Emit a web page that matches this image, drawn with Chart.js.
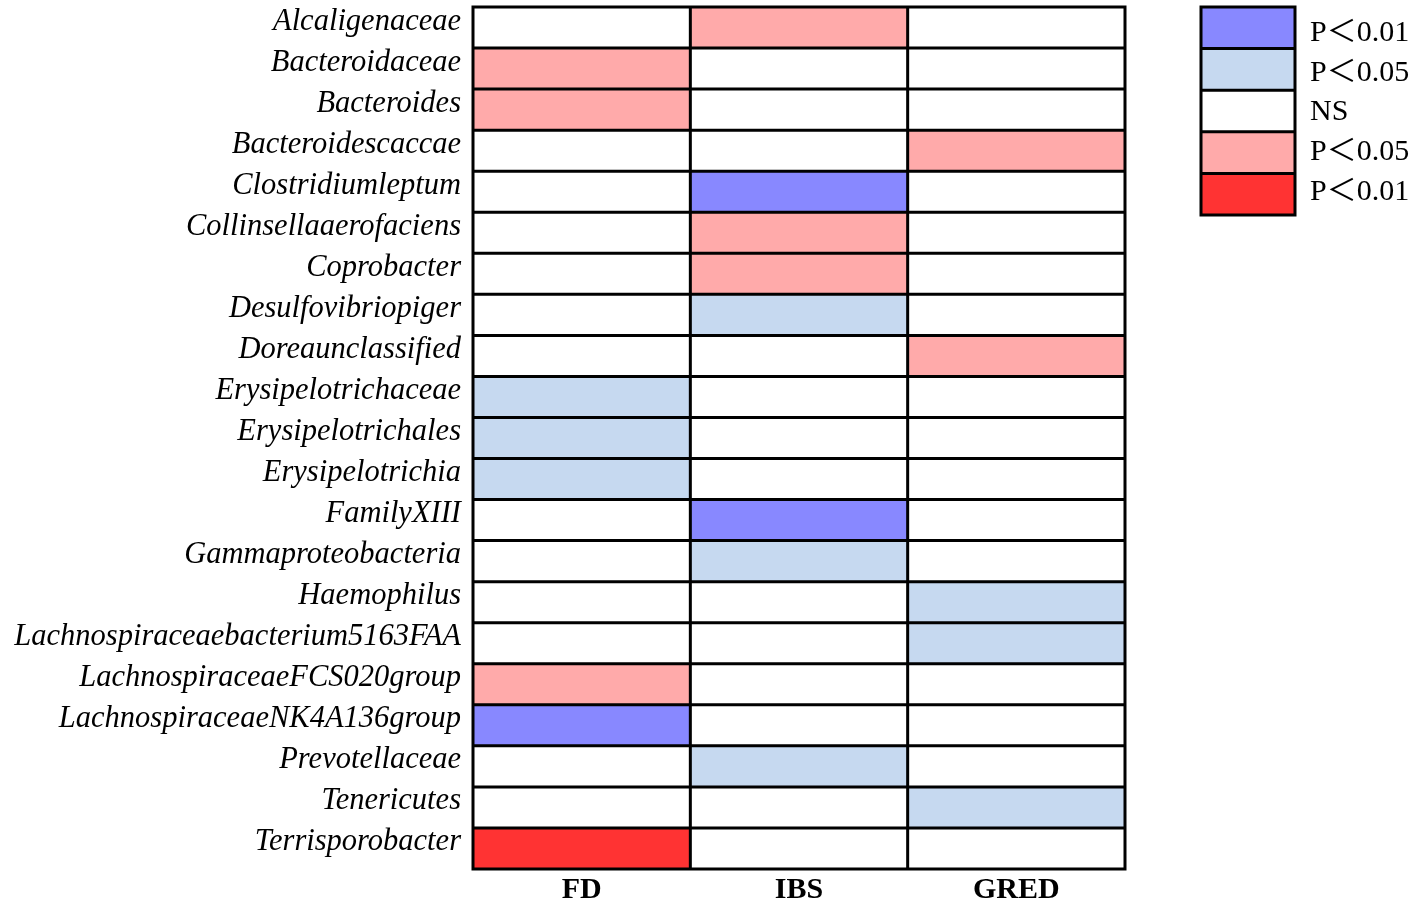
<!DOCTYPE html>
<html>
<head>
<meta charset="utf-8">
<script src="https://cdn.jsdelivr.net/npm/chart.js@4.4.1/dist/chart.umd.min.js"></script>
<style>
html,body{margin:0;padding:0;background:#fff;}
#wrap{width:1418px;height:909px;}
</style>
</head>
<body>
<div id="wrap"><canvas id="c" width="1418" height="909"></canvas></div>
<script>
const taxa = ["Alcaligenaceae","Bacteroidaceae","Bacteroides","Bacteroidescaccae","Clostridiumleptum","Collinsellaaerofaciens","Coprobacter","Desulfovibriopiger","Doreaunclassified","Erysipelotrichaceae","Erysipelotrichales","Erysipelotrichia","FamilyXIII","Gammaproteobacteria","Haemophilus","Lachnospiraceaebacterium5163FAA","LachnospiraceaeFCS020group","LachnospiraceaeNK4A136group","Prevotellaceae","Tenericutes","Terrisporobacter"];
const groups = ["FD","IBS","GRED"];
// significance codes: -2 = blue P<0.01, -1 = blue P<0.05, 0 = NS, 1 = red P<0.05, 2 = red P<0.01
const FD   = [0,1,1,0,0,0,0,0,0,-1,-1,-1,0,0,0,0,1,-2,0,0,2];
const IBS  = [1,0,0,0,-2,1,1,-1,0,0,0,0,-2,-1,0,0,0,0,-1,0,0];
const GRED = [0,0,0,1,0,0,0,0,1,0,0,0,0,0,-1,-1,0,0,0,-1,0];
const legendLabels = ["P\uFF1C0.01","P\uFF1C0.05","NS","P\uFF1C0.05","P\uFF1C0.01"];
const legendCodes = [-2,-1,0,1,2];

const palette = {"-2":"#8888ff","-1":"#c6d9f0","0":"#ffffff","1":"#ffaaaa","2":"#ff3333"};
const colorFor = v => palette[String(v)];
const groupValues = [FD, IBS, GRED];

const datasets = groups.map((g, j) => ({
  label: g,
  data: taxa.map(() => [j, j + 1]),
  backgroundColor: groupValues[j].map(colorFor),
  borderWidth: 0,
  grouped: false,
  barPercentage: 1,
  categoryPercentage: 1
}));

const gridPlugin = {
  id: 'gridLines',
  afterDatasetsDraw(chart) {
    const {ctx, scales: {x, y}} = chart;
    const step = y.getPixelForValue(1) - y.getPixelForValue(0);
    const top = y.getPixelForValue(0) - step / 2;
    const bottom = top + step * taxa.length;
    const left = x.getPixelForValue(0), right = x.getPixelForValue(groups.length);
    ctx.save();
    ctx.strokeStyle = '#000';
    ctx.lineWidth = 3;
    ctx.beginPath();
    for (let i = 0; i <= taxa.length; i++) {
      const yy = top + step * i;
      ctx.moveTo(left - 1.5, yy); ctx.lineTo(right + 1.5, yy);
    }
    for (let j = 0; j <= groups.length; j++) {
      const xx = x.getPixelForValue(j);
      ctx.moveTo(xx, top); ctx.lineTo(xx, bottom);
    }
    ctx.stroke();
    ctx.restore();
  }
};

const legendPlugin = {
  id: 'sigLegend',
  afterDraw(chart) {
    const ctx = chart.ctx;
    const bx = 1201, bw = 94, by = 7, bh = 41.6;
    ctx.save();
    legendCodes.forEach((code, i) => {
      ctx.fillStyle = colorFor(code);
      ctx.fillRect(bx, by + bh * i, bw, bh);
    });
    ctx.strokeStyle = '#000';
    ctx.lineWidth = 3;
    ctx.beginPath();
    for (let i = 0; i <= legendCodes.length; i++) {
      ctx.moveTo(bx - 1.5, by + bh * i); ctx.lineTo(bx + bw + 1.5, by + bh * i);
    }
    ctx.moveTo(bx, by); ctx.lineTo(bx, by + bh * legendCodes.length);
    ctx.moveTo(bx + bw, by); ctx.lineTo(bx + bw, by + bh * legendCodes.length);
    ctx.stroke();
    ctx.fillStyle = '#000';
    ctx.font = "30px 'Liberation Serif', 'Noto Sans CJK SC', serif";
    ctx.textBaseline = 'middle';
    ctx.textAlign = 'left';
    legendLabels.forEach((t, i) => {
      ctx.fillText(t, 1310, by + 26 + 39.8 * i);
    });
    ctx.restore();
  }
};

new Chart(document.getElementById('c'), {
  type: 'bar',
  data: { labels: taxa, datasets },
  options: {
    responsive: false,
    animation: false,
    devicePixelRatio: 1,
    indexAxis: 'y',
    layout: { padding: { top: 7, right: 293, bottom: 0, left: 0 } },
    plugins: { legend: { display: false }, tooltip: { enabled: false } },
    scales: {
      x: {
        type: 'linear', min: 0, max: groups.length,
        grid: { display: false, drawTicks: false },
        border: { display: false },
        afterBuildTicks(axis) { axis.ticks = groups.map((g, j) => ({ value: j + 0.5 })); },
        afterFit(axis) { axis.height = 40; axis.paddingLeft = 0; axis.paddingRight = 0; },
        ticks: {
          autoSkip: false, maxRotation: 0, padding: 3, color: '#000',
          font: { family: "'Liberation Serif', serif", size: 30, weight: 'bold' },
          callback: (v, i) => groups[i]
        }
      },
      y: {
        type: 'category',
        grid: { display: false, drawTicks: false },
        border: { display: false },
        afterFit(axis) { axis.width = 473; axis.paddingTop = 0; axis.paddingBottom = 0; },
        ticks: {
          autoSkip: false, padding: 12, color: '#000', labelOffset: -6,
          font: { family: "'Liberation Serif', serif", size: 30.5, style: 'italic' }
        }
      }
    }
  },
  plugins: [gridPlugin, legendPlugin]
});
</script>
</body>
</html>
